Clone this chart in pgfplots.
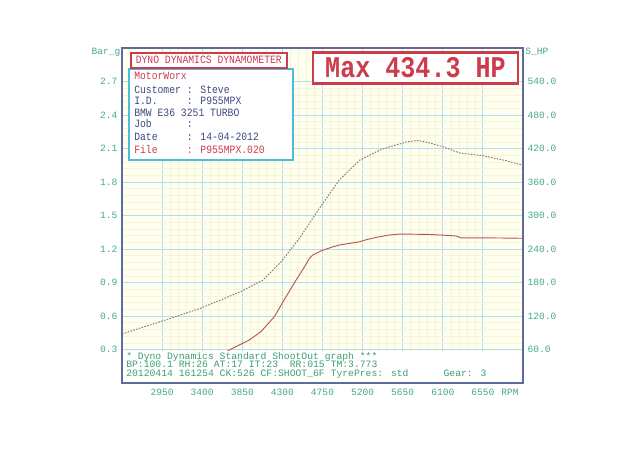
\documentclass[border=0pt]{standalone}
\usepackage{fontspec}
\setmainfont{Liberation Mono}
\setmonofont{Liberation Mono}
\usepackage{graphicx}
\usepackage{pgfplots}
\pgfplotsset{compat=1.18}
\definecolor{bgy}{HTML}{FFFFF0}
\definecolor{minorg}{HTML}{F7F3D6}
\definecolor{majorg}{HTML}{B8DCEF}
\definecolor{framec}{HTML}{5E6C9C}
\definecolor{tickc}{HTML}{44A88C}
\definecolor{txtg}{HTML}{3E9E74}
\definecolor{redc}{HTML}{CC3C4C}
\definecolor{boxblue}{HTML}{4DBCDC}
\definecolor{infotxt}{HTML}{3C4A80}
\definecolor{boostc}{HTML}{B25A4E}
\definecolor{powc}{HTML}{8A7870}
\newcommand{\sm}{\fontsize{7.3}{8.7}\selectfont}
\newcommand{\tx}[1]{\scalebox{1}[1.15]{#1}}
\begin{document}
\begin{tikzpicture}
\path[use as bounding box] (0pt,0pt) rectangle (480pt,348.75pt);
\begin{axis}[at={(91.5pt,61.5pt)}, anchor=south west, scale only axis,
  width=300.75pt, height=251.25pt,
  xmin=2500, xmax=7000, ymin=0, ymax=3,
  xtick={2950,3400,3850,4300,4750,5200,5650,6100,6550},
  xticklabels={2950,3400,3850,4300,4750,5200,5650,6100,6550},
  ytick={0.3,0.6,0.9,1.2,1.5,1.8,2.1,2.4,2.7},
  yticklabels={0.3,0.6,0.9,1.2,1.5,1.8,2.1,2.4,2.7},
  axis line style={draw=none},
  major tick length=0pt, minor tick length=0pt,
  grid=both, minor x tick num=4, minor y tick num=4,
  major grid style={majorg, line width=0.7pt},
  minor grid style={minorg, line width=0.35pt},
  axis background/.style={fill=bgy},
  tick label style={font=\fontsize{7.2}{8}\selectfont, text=tickc},
  xticklabel style={yshift=-1pt},
]
\addplot[boostc, line width=0.7pt] coordinates {
(3600,0.24) (3704,0.296) (3929,0.385) (4060,0.46) (4210,0.594) (4341,0.773)
(4454,0.922) (4540,1.03) (4604,1.117) (4641,1.146) (4716,1.176) (4754,1.19)
(4850,1.215) (4941,1.236) (5050,1.25) (5166,1.265) (5250,1.285) (5391,1.31)
(5500,1.325) (5616,1.334) (5800,1.332) (5954,1.33) (6150,1.322) (6254,1.316)
(6300,1.30) (6554,1.30) (6800,1.298) (7000,1.296)
};
\end{axis}
\begin{axis}[at={(91.5pt,61.5pt)}, anchor=south west, scale only axis,
  width=300.75pt, height=251.25pt,
  xmin=2500, xmax=7000, ymin=0, ymax=600,
  hide x axis, axis y line*=right,
  ytick={60,120,180,240,300,360,420,480,540},
  yticklabels={60.0,120.0,180.0,240.0,300.0,360.0,420.0,480.0,540.0},
  axis line style={draw=none},
  major tick length=0pt,
  tick label style={font=\fontsize{7.2}{8}\selectfont, text=tickc},
]
\addplot[powc, line width=0.7pt, dash pattern=on 1.2pt off 1pt] coordinates {
(2500,88) (2935,110) (3385,134) (3835,164) (4079,184) (4285,217) (4491,259)
(4716,313) (4941,364) (5166,399) (5391,417) (5500,423) (5616,428) (5700,432)
(5822,434.3) (5950,430) (6104,423) (6291,412) (6554,407) (6816,398) (7000,390)
};
\end{axis}
\begin{scope}[x=0.75pt,y=0.75pt]
% bottom info area
\fill[white] (123,83) rectangle (522,114.5);
\draw[framec, line width=1.5pt] (122,82) rectangle (523,417);
\tikzset{bl/.style={anchor=base west, text=txtg, inner sep=0pt, font=\sm, text height=4.9pt, text depth=1.2pt}}
\node[bl] at (126,106) {* Dyno Dynamics Standard ShootOut graph ***};
\node[bl] at (126,97.3) {BP:100.1 RH:26 AT:17 IT:23\ \ RR:015 TM:3.773};
\node[bl] at (126,88.6) {20120414 161254 CK:526 CF:SHOOT\_6F TyrePres: std\ \ \ \ \ \ Gear: 3};
\node[anchor=west, text=tickc, inner sep=0pt, font=\fontsize{7.2}{8}\selectfont] at (501,73) {RPM};
\node[text=tickc, inner sep=0pt, font=\fontsize{7.2}{8}\selectfont] at (106,413) {Bar\_g};
\node[anchor=west, text=tickc, inner sep=0pt, font=\fontsize{7.2}{8}\selectfont] at (525,413) {S\_HP};
% header boxes
\draw[boxblue, line width=1.5pt, fill=white] (129.3,395.7) rectangle (293.3,305);
\draw[redc, line width=1.5pt, fill=white] (130.7,412.3) rectangle (287,397.3);
\node[text=redc, inner sep=0pt, font=\sm] at (208.8,404.8) {\tx{DYNO DYNAMICS DYNAMOMETER}};
\node[anchor=base west, text=redc, inner sep=0pt, font=\sm] at (134,385) {\tx{MotorWorx}};
\node[anchor=base west, text=infotxt, inner sep=0pt, font=\sm] at (134,371.5) {\tx{Customer : Steve}};
\node[anchor=base west, text=infotxt, inner sep=0pt, font=\sm] at (134,360) {\tx{I.D.\ \ \ \ \ : P955MPX}};
\node[anchor=base west, text=infotxt, inner sep=0pt, font=\sm] at (134,348.7) {\tx{BMW E36 3251 TURBO}};
\node[anchor=base west, text=infotxt, inner sep=0pt, font=\sm] at (134,337) {\tx{Job\ \ \ \ \ \ :}};
\node[anchor=base west, text=infotxt, inner sep=0pt, font=\sm] at (134,324.7) {\tx{Date\ \ \ \ \ : 14-04-2012}};
\node[anchor=base west, text=redc, inner sep=0pt, font=\sm] at (134,311.3) {\tx{File\ \ \ \ \ : P955MPX.020}};
\draw[redc, line width=2pt, fill=white] (313,412.3) rectangle (518,381.7);
\node[text=redc, inner sep=0pt, font=\fontsize{18.8}{20}\selectfont\bfseries] at (415.5,397) {\scalebox{1}[1.2]{Max 434.3 HP}};
\end{scope}
\end{tikzpicture}
\end{document}
